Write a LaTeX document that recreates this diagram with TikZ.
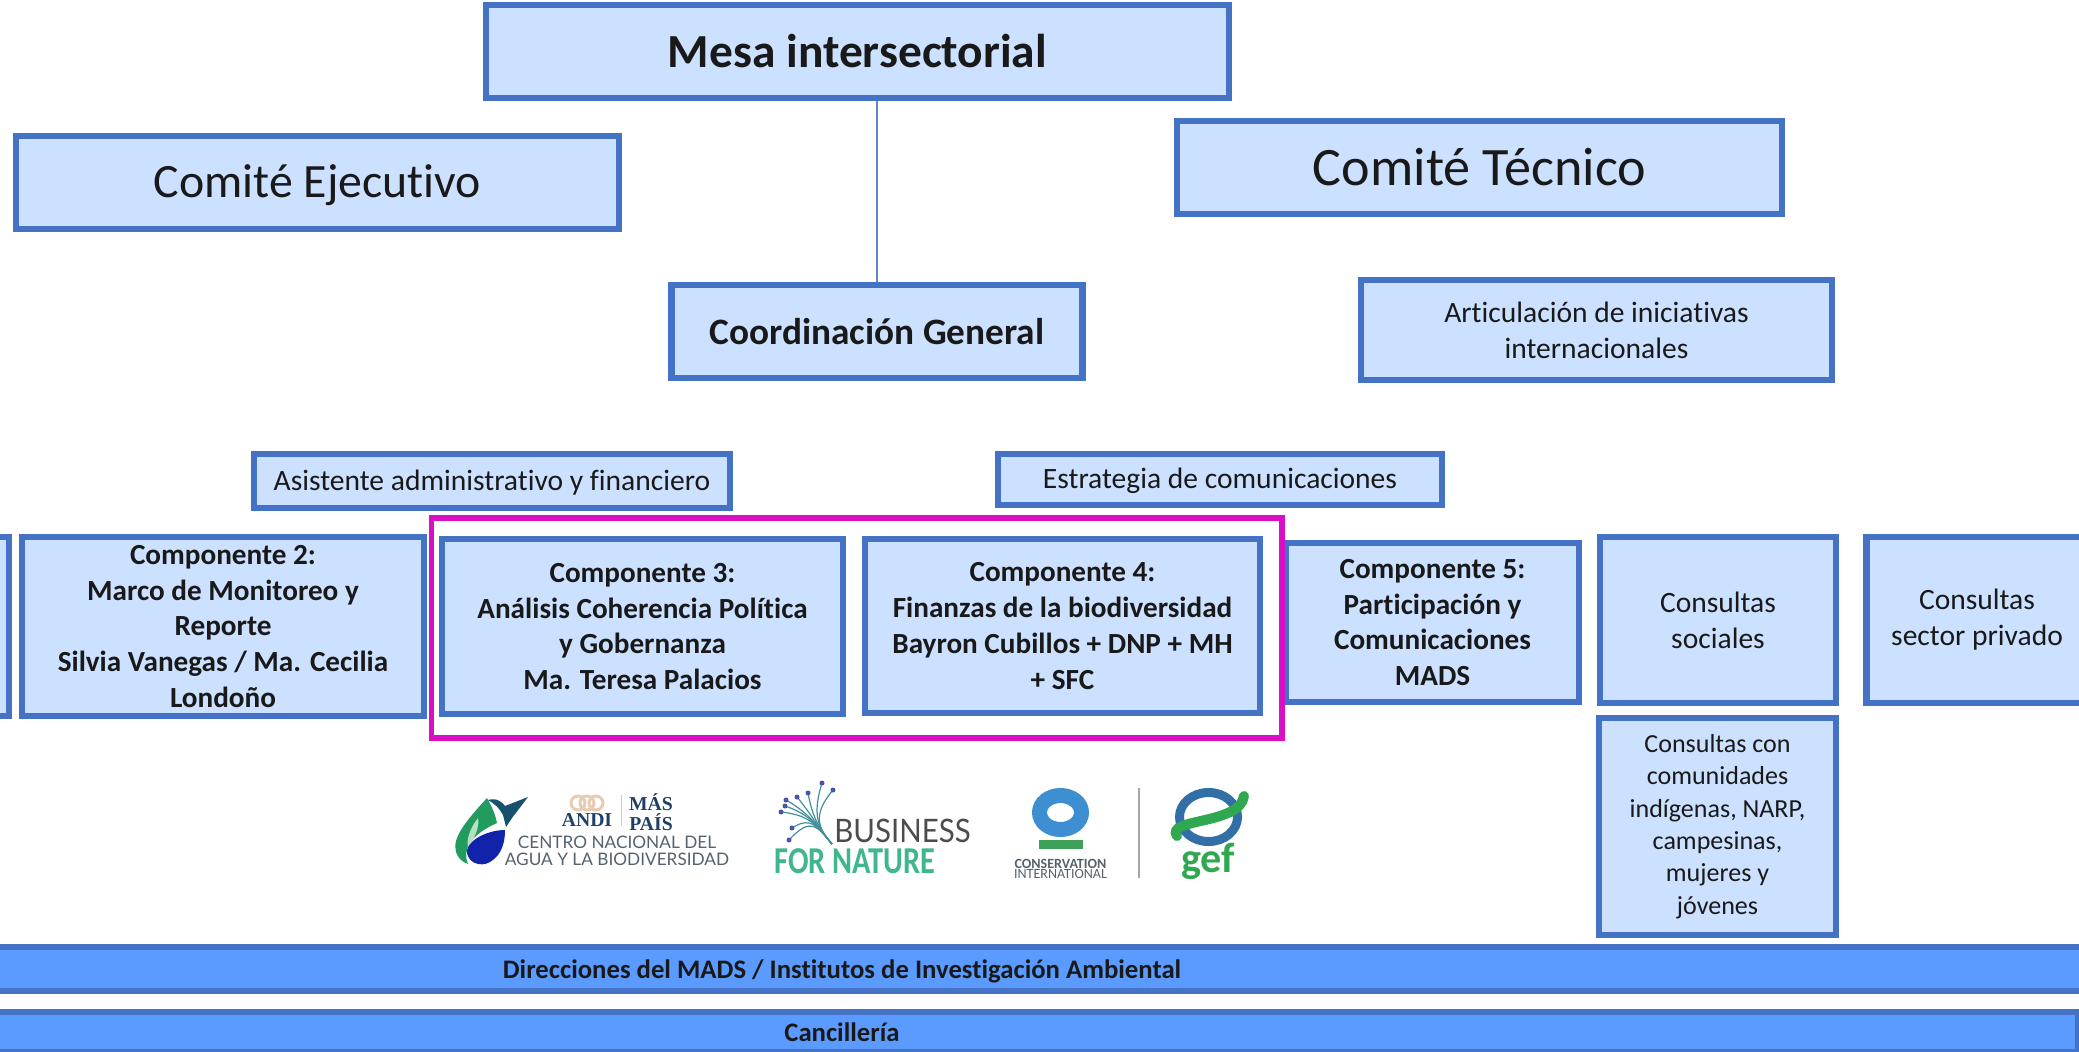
\documentclass[tikz,border=0pt]{standalone}
\usepackage{fontspec}
\usepackage{graphicx}
\setmainfont{Carlito}[Ligatures=NoCommon]
\newfontfamily\logofont{Lato}
\newfontfamily\andifont{Liberation Serif}
\definecolor{boxline}{HTML}{4472C4}
\definecolor{boxfill}{HTML}{CCE0FF}
\definecolor{barfill}{HTML}{5B9BFF}
\definecolor{magline}{HTML}{D90FC8}
\definecolor{logonavy}{HTML}{1F3F66}
\definecolor{logogray}{HTML}{54626E}
\definecolor{logoteal}{HTML}{3FB68F}
\definecolor{logoblue}{HTML}{3D8FD1}
\definecolor{logogreen}{HTML}{2FA84F}
\definecolor{logopurple}{HTML}{4A55A8}
\tikzset{
    bluebox/.style={draw=boxline,fill=boxfill,line width=.065cm,align=center,inner sep=0pt,text=black!90},
    barbox/.style={draw=boxline,fill=barfill,line width=.06cm,align=center,inner sep=0pt,text=black!90,font=\fontsize{7.6}{9}\selectfont\bfseries},
    compbox/.style={bluebox,font=\fontsize{8.3}{10.2}\selectfont\bfseries},
    logotext/.style={inner sep=0pt,align=center},
}
\begin{document}
\begin{tikzpicture}[x=.01cm,y=-.01cm]
    \clip (0,0) rectangle (2079,1051);
    \node[bluebox,minimum width=7.425cm,minimum height=.925cm,font=\fontsize{13.5}{14}\selectfont\bfseries] (mesa) at (857.5,51.5) {Mesa intersectorial};
    \node[bluebox,minimum width=6.025cm,minimum height=.925cm,font=\fontsize{13.6}{14}\selectfont] (ejecutivo) at (317.5,182.5) {\raisebox{-4.4pt}[0pt][0pt]{Comité Ejecutivo}};
    \node[bluebox,minimum width=6.045cm,minimum height=.925cm,font=\fontsize{15.4}{16}\selectfont] (tecnico) at (1479.5,167.5) {Comité Técnico};
    \node[bluebox,minimum width=4.11cm,minimum height=.925cm,font=\fontsize{10.6}{12}\selectfont\bfseries] (coordinacion) at (877,331.5) {Coordinación General};
    \node[bluebox,minimum width=4.71cm,minimum height=1cm,font=\fontsize{8.4}{10.2}\selectfont] (articulacion) at (1596.5,330) {Articulación de iniciativas\\internacionales};
    \node[bluebox,minimum width=4.76cm,minimum height=.54cm,font=\fontsize{8.4}{10}\selectfont] (asistente) at (492,481) {\raisebox{-2.7pt}[0pt][0pt]{Asistente administrativo y financiero}};
    \node[bluebox,minimum width=4.44cm,minimum height=.51cm,font=\fontsize{8.4}{10}\selectfont] (estrategia) at (1220,479.5) {\raisebox{-2.5pt}[0pt][0pt]{Estrategia de comunicaciones}};

    \draw[color=boxline!85!white,line width=.015cm] (coordinacion.north) -- (coordinacion.north |- mesa.south);

    \node[bluebox,minimum width=4cm,minimum height=1.785cm] (comp1) at (-191,626.5) {};
    \node[compbox,minimum width=4.015cm,minimum height=1.785cm] (comp2) at (223,626.5) {Componente 2:\\Marco de Monitoreo y\\Reporte\\Silvia Vanegas / Ma. Cecilia\\Londoño};
    \node[compbox,minimum width=4.01cm,minimum height=1.75cm] (comp3) at (642.5,626.5) {Componente 3:\\Análisis Coherencia Política\\y Gobernanza\\Ma. Teresa Palacios};
    \node[compbox,minimum width=3.95cm,minimum height=1.74cm] (comp4) at (1062.5,626) {Componente 4:\\Finanzas de la biodiversidad\\Bayron Cubillos + DNP + MH\\+ SFC};
    \node[compbox,minimum width=2.93cm,minimum height=1.59cm] (comp5) at (1432.5,622.5) {Componente 5:\\Participación y\\Comunicaciones\\MADS};
    \node[bluebox,minimum width=2.36cm,minimum height=1.655cm,font=\fontsize{8.4}{10.2}\selectfont] (sociales) at (1718,620) {Consultas\\sociales};
    \node[bluebox,minimum width=2.21cm,minimum height=1.655cm,font=\fontsize{8.4}{10.2}\selectfont] (privado) at (1977,620) {Consultas\\sector privado};
    \node[bluebox,minimum width=2.37cm,minimum height=2.17cm,font=\fontsize{7.4}{9.2}\selectfont] (comunidades) at (1717.5,826.5) {Consultas con\\comunidades\\indígenas, NARP,\\campesinas,\\mujeres y\\jóvenes};

    \node[draw=magline,line width=.055cm,minimum width=8.5cm,minimum height=2.2cm,inner sep=0pt] (marco) at (856.5,628) {};

    \node[barbox,minimum width=24.78cm,minimum height=.445cm] (direcciones) at (842,969) {\raisebox{-2.8pt}[0pt][0pt]{Direcciones del MADS / Institutos de Investigación Ambiental}};
    \node[barbox,minimum width=24.70cm,minimum height=.395cm] (cancilleria) at (842,1032) {Cancillería};

    % logos
    \fill[logogreen!70!teal] (487,798) .. controls (465,822) and (452,838) .. (456,852) .. controls (458,858) and (462,862) .. (468,864) .. controls (462,850) and (470,835) .. (497,823) .. controls (495,813) and (491,805) .. (487,798);
    \fill[logogreen!35!white] (478,818) .. controls (470,828) and (466,840) .. (468,848) .. controls (474,838) and (480,828) .. (478,818);
    \fill[logonavy!55!blue] (505,830) .. controls (490,830) and (470,838) .. (467,850) .. controls (466,862) and (480,868) .. (490,862) .. controls (502,855) and (505,842) .. (505,830);
    \fill[logonavy!70!teal] (488,800) .. controls (497,797) and (503,803) .. (505,806) -- (528,797) -- (512,818) -- (506,827) -- (503,815) .. controls (498,806) and (493,803) .. (488,800);
    \draw[color=brown!40!white,line width=.03cm] (578,803) circle (.07cm) (587,803) circle (.07cm) (596,803) circle (.07cm);
    \node[logotext,text=logonavy,font=\andifont\fontsize{5.6}{5}\selectfont\bfseries] (andi) at (587,820) {ANDI};
    \node[logotext,text=logonavy,font=\andifont\fontsize{5.6}{4.4}\selectfont\bfseries] (maspais) at (651,812) {MÁS\\PAÍS};
    \draw[color=gray!40,line width=.01cm] (621,795) -- (621,826);
    \node[logotext,text=logogray,font=\logofont\fontsize{4.9}{5}\selectfont] (centro) at (617,842) {CENTRO NACIONAL DEL};
    \node[logotext,text=logogray,font=\logofont\fontsize{4.9}{5}\selectfont] (agua) at (617,859) {AGUA Y LA BIODIVERSIDAD};

    \foreach \tipx/\tipy in {822/783,833/790,808/793,797/797,786/800,781/812,785/806,792/828,789/840}{
        \draw[color=logoteal!60!logopurple,line width=.012cm] (\tipx,\tipy) .. controls (812,815) and (818,828) .. (832,844);
        \fill[color=logopurple] (\tipx,\tipy) circle (.025cm);
    }
    \node[logotext,text=black!70,font=\logofont\fontsize{9.2}{9}\selectfont] (business) at (902.5,831) {\scalebox{.91}[1]{BUSINESS}};
    \node[logotext,text=logoteal,font=\fontsize{10.8}{11}\selectfont\bfseries] (fornature) at (855,861) {\scalebox{.8}[1]{FOR NATURE}};

    \draw[color=logoblue,line width=.15cm] (1060.5,812.5) ellipse (.21cm and .17cm);
    \fill[color=logogreen!80!gray] (1039,840) rectangle (1083,849);
    \node[logotext,text=logogray,font=\fontsize{4}{4}\selectfont\bfseries] (conservation) at (1060.5,864) {CONSERVATION};
    \node[logotext,text=logogray,font=\fontsize{4}{4}\selectfont] (international) at (1060.5,874) {INTERNATIONAL};
    \draw[color=gray!70,line width=.012cm] (1139,788) -- (1139,878);

    \draw[color=logoblue!60!logonavy,line width=.09cm] (1208.5,817) ellipse (.29cm and .245cm);
    \draw[color=logogreen,line width=.1cm,line cap=round] (1177,836) .. controls (1165,818) and (1240,825) .. (1244,796);
    \node[logotext,text=logogreen,font=\fontsize{12}{12}\selectfont\bfseries] (gef) at (1208,861) {gef};
\end{tikzpicture}
\end{document}
